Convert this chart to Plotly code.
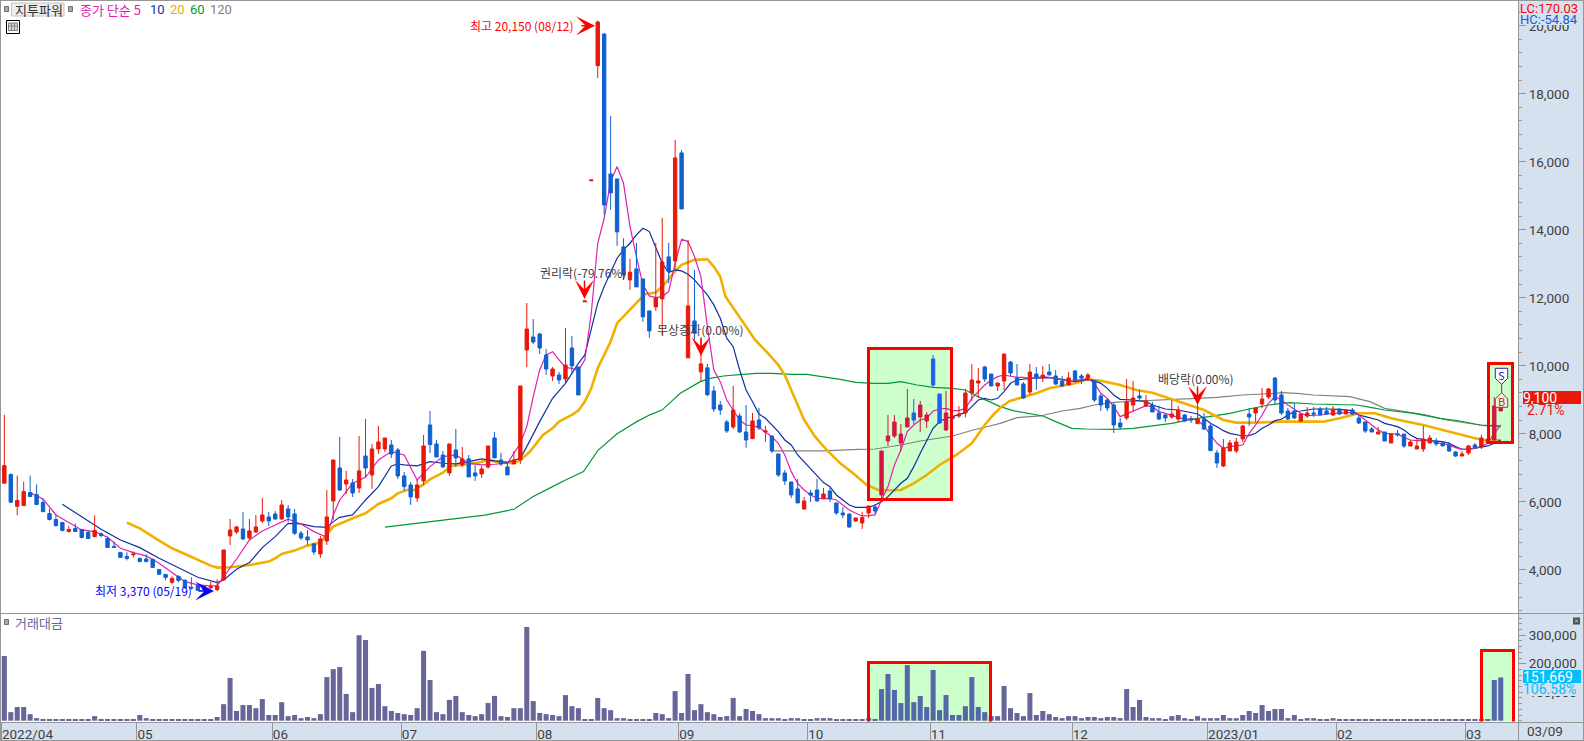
import plotly.graph_objects as go

W, H = 1584, 741
# ---------- data ----------
opens = [6546,6800,5870,5890,6270,6213,5980,5655,5480,5390,5128,5216,5186,5098,4980,5059,4922,4687,4512,4394,
4443,4335,4316,4306,4012,3866,3631,3807,3690,3484,3543,3396,3470,3420,3702,4996,5113,5201,4937,5113,
5437,5554,5642,5495,5789,5642,5074,4966,4760,4466,4848,6025,6995,6524,6554,6407,7348,6789,7553,7553,
7671,7524,6761,6496,6114,6614,8260,7701,7378,6849,7525,7084,7260,6849,6819,7025,7878,7231,7025,7114,
7231,10465,10847,10935,10318,9700,9730,9612,10524,9965,11880,15440,18827,19758,15642,15495,13496,12526,12849,12555,
11614,11732,11967,13202,13085,16260,10233,11320,9821,9939,9259,8847,8347,8200,8524,8053,7857,8406,8053,7935,
7406,6848,6583,6377,5789,6260,6348,6103,6319,5966,5672,5642,5436,5378,5672,5848,6201,7789,7935,7730,
8200,8612,8494,8377,10200,9170,8112,8500,8523,8612,9200,9494,9964,9758,9406,9553,10111,9641,9464,9229,
9758,9641,9817,9700,9553,9435,9847,9700,9641,9553,9112,8994,8847,8318,8465,8847,9112,8818,8847,8612,
8553,8494,8435,8553,8435,8298,8435,8230,7436,7054,7495,7495,7847,8582,8612,8876,9082,9641,9141,8671,
8671,8377,8524,8612,8729,8671,8553,8729,8582,8700,8465,8347,8141,7994,8053,7730,8000,7994,7640,7553,
7553,7730,7788,7730,7671,7465,7347,7436,7671,7612,7730,7818,8670]
highs = [8560,6840,6770,6590,6770,6510,6095,5800,5626,5390,5294,5362,5186,5157,5597,5098,4980,4834,4512,4512,
4540,4365,4453,4335,4012,3866,3807,3836,3720,3778,3543,3504,3641,3720,4584,5495,5290,5701,5495,5613,
6113,5701,5731,6054,5907,5789,5143,5172,4790,4995,6348,7230,7906,6907,6671,7936,8435,7700,8230,7877,
7818,7583,6878,6584,6643,7966,8672,7819,7496,7701,8142,7613,7378,7084,7054,7642,8054,7437,7172,7495,
9407,11847,11376,10965,10494,9965,9818,11112,10877,9965,11908,15466,20150,19778,17348,15495,13751,13143,13614,12555,
11614,13614,14349,13614,16642,16348,13702,12820,10840,10056,9406,8965,8406,9406,8612,8847,8612,8759,8230,7935,
7406,6936,6583,6671,6142,6348,6671,6407,6407,5966,5848,5642,5525,5701,5878,5936,7495,8553,8553,8288,
9317,9023,8965,8641,10317,9170,9259,8560,8818,9317,10052,9935,10000,9758,9494,10346,10141,10052,9523,10052,
9964,9994,10052,9876,9700,9817,9876,9758,9788,9553,9170,9053,8906,8465,9611,9552,9290,9141,8935,8817,
8582,8994,8817,8582,8523,9405,8612,8288,7524,7847,7818,7876,8259,8759,8759,9347,9347,9670,9258,8759,
8906,8582,8788,8788,8788,8788,8817,8729,8700,8758,8553,8347,8200,8200,8053,7994,8110,7994,7820,7876,
8230,7965,7877,7788,7759,7494,7494,7671,7730,7965,7990,9082,9130]
lows = [6546,5960,5600,5890,6155,5920,5710,5450,5270,5128,5098,5128,4920,4920,4951,4951,4658,4658,4365,4277,
4365,4218,4218,4071,3866,3690,3572,3631,3445,3416,3396,3367,3440,3370,3702,4731,5054,4878,4878,5084,
5378,5290,5466,5466,5407,5025,4878,4731,4437,4349,4731,5466,6319,6230,6142,6260,6720,6377,7406,7465,
7289,6672,6330,5908,5996,6496,7437,7319,6996,6761,7025,7025,6731,6614,6702,6966,7290,7054,6790,7114,
7114,9965,10641,10347,9730,9554,9465,9495,9759,9142,11880,15440,18465,14437,14584,13526,12526,12232,12320,11291,
10821,11614,10909,12428,12820,14613,10233,10762,9527,9116,8641,8553,8024,8141,8024,7593,7857,8112,7769,7436,
6730,6495,6113,5966,5760,5995,5995,6103,5995,5613,5525,5231,5407,5201,5525,5642,6054,7642,7877,7495,
8200,8288,8053,8171,9376,8288,8083,8400,8465,8484,8965,9053,9523,9406,9259,9288,9700,9435,9023,9141,
9288,9523,9729,9435,9376,9435,9553,9464,9553,8935,8670,8670,8024,8141,8406,8670,9000,8788,8641,8406,
8347,8435,8347,8347,8318,8288,8112,7505,6995,7024,7495,7436,7759,8230,8347,8759,9023,8876,8553,8406,
8435,8347,8465,8494,8553,8553,8523,8553,8582,8553,8288,8024,8053,7994,7788,7730,7920,7582,7640,7553,
7465,7730,7642,7642,7465,7318,7347,7377,7553,7553,7730,7818,8670]
closes = [7064,5990,6040,6300,6155,5920,5710,5480,5300,5157,5186,5128,4951,4920,5157,5010,4658,4658,4365,4335,
4463,4247,4247,4071,3866,3778,3749,3690,3474,3465,3396,3504,3500,3524,4584,5172,5260,4907,5143,5260,
5613,5437,5495,5907,5554,5074,4937,4878,4525,4907,5554,7230,6348,6642,6260,6907,6995,7553,7759,7877,
7406,6760,6447,6143,6496,7642,7682,7319,7025,7701,7290,7260,6731,6761,6966,7642,7290,7114,6790,7231,
9407,11082,10700,10524,9906,9906,9583,10024,9995,9142,11908,15466,20111,14731,15084,13937,12673,12751,12320,11438,
11026,11997,13055,12771,16113,14613,11762,10958,10056,9145,8729,8700,8083,8700,8053,7818,8377,8171,8083,7495,
6789,6613,6201,5966,6025,6201,6025,6230,6083,5672,5613,5260,5525,5534,5878,5731,7495,7935,8347,7994,
8465,8406,8847,8553,9435,8318,8612,8450,8582,9200,9582,9553,9611,9406,9494,10346,9788,9435,9053,9817,
9670,9729,9729,9464,9406,9641,9582,9641,9729,8994,8847,8759,8259,8200,8935,9053,9053,8965,8641,8435,
8465,8582,8700,8377,8406,8435,8141,7505,7141,7583,7730,7759,8230,8494,8759,9023,9317,8994,8612,8435,
8465,8582,8612,8582,8553,8582,8700,8582,8700,8582,8318,8083,8053,8053,7788,7994,7970,7640,7759,7640,
7847,7877,7700,7642,7494,7347,7406,7642,7582,7877,7847,8818,9100]
trade_value = [227000,30000,48000,48000,23000,9000,6000,6000,6000,6000,6000,6000,6000,6000,16000,6000,6000,2500,2500,2500,
2500,20000,9000,6000,2500,2500,2500,2500,2500,6000,2500,2500,6000,13000,58000,150000,34000,55000,55000,44000,
76000,20000,20000,65000,16000,20000,9000,13000,9000,23000,153000,181000,188000,94000,30000,300000,283000,115000,129000,51000,
34000,27000,23000,20000,44000,245000,143000,30000,23000,73000,87000,30000,20000,16000,23000,62000,87000,16000,13000,44000,
44000,329000,69000,27000,23000,20000,16000,90000,51000,44000,2500,2500,80000,44000,37000,9000,9000,6000,6000,6000,
6000,27000,23000,9000,104000,27000,164000,37000,58000,30000,23000,13000,16000,80000,16000,41000,34000,23000,9000,9000,
9000,6000,9000,9000,6000,6000,9000,9000,9000,6000,6000,6000,6000,6000,9000,6000,111000,164000,108000,62000,
195000,65000,87000,48000,178000,37000,90000,20000,20000,51000,153000,48000,30000,16000,16000,122000,44000,27000,16000,97000,
20000,34000,23000,13000,9000,16000,16000,9000,13000,13000,9000,13000,13000,9000,111000,48000,73000,13000,9000,9000,
6000,16000,20000,9000,6000,16000,9000,9000,9000,20000,9000,9000,20000,34000,27000,55000,34000,41000,41000,9000,
20000,6000,9000,9000,6000,6000,9000,6000,6000,6000,6000,6000,6000,6000,6000,6000,2500,6000,2500,6000,
6000,6000,2500,2500,2500,2500,2500,6000,2500,2500,6000,143000,151669]
ma5_idx = [4,6,8,10,12,14,16,18,20,22,24,26,28,30,32,33,34,36,38,40,42,44,46,48,50,51,52,54,56,58,60,62,64,66,68,70,72,74,76,78,80,81,82,83,84,85,86,87,88,89,
90,91,92,93,94,95,96,97,98,99,100,101,102,103,104,105,106,107,108,109,110,111,112,113,114,115,116,117,118,119,120,121,122,123,124,125,126,127,128,129,
130,131,132,133,134,135,136,137,138,139,140,141,142,143,144,145,146,147,148,149,150,151,152,153,154,155,156,157,158,159,160,161,162,163,164,165,166,167,168,169,
170,171,172,173,174,175,176,177,178,179,180,181,182,183,184,185,186,187,188,189,190,191,192,193,194,195,196,197,198,199,200,201,202,203,204,205,206,207,208,209,
210,211,212,213,214,215,216,217,218,219,220,221,222,223,224,225,226,227,228,229,230,231,232]
ma5_val = [6270,6083,5613,5397,5172,5123,4956,4633,4506,4408,4192,3918,3653,3555,3525,3535,3800,4310,4878,5143,5319,5486,5348,5123,4956,5613,6054,6544,6720,7230,7476,7378,6643,7035,7329,7378,7133,7084,7104,7133,7721,8211,9093,9877,10318,10416,10171,9955,9926,9857,
10174,11546,13604,14339,15417,15858,15368,14094,13212,12379,12056,12007,12036,12183,13016,13722,13653,13212,12624,11154,9876,9533,8994,8700,8406,8259,8239,8190,8063,7916,7720,7377,6887,6544,6348,6201,6103,6083,6103,6054,
5907,5760,5662,5584,5593,5613,6054,6446,7083,7524,8063,8259,8406,8455,8671,8729,8749,8680,8680,8749,9043,9239,9435,9582,9680,9729,9700,9660,9660,9631,9650,9680,9660,9631,9582,9553,9562,9602,9631,9484,
9190,9043,8798,8504,8582,8680,8749,8827,8798,8651,8602,8553,8484,8426,8445,8406,8230,7965,7720,7573,7622,7642,7671,8014,8259,8553,8896,9092,8994,8847,8720,8602,8533,8533,8553,8582,8602,8602,8622,8622,
8553,8406,8259,8112,8014,8014,7994,7896,7818,7798,7798,7798,7740,7700,7671,7593,7544,7544,7573,7622,7720,8014,8259]
ma10_idx = [9,12,15,18,21,24,27,30,33,34,36,38,40,42,44,46,48,50,51,52,54,56,58,60,61,62,64,66,68,70,72,74,76,78,80,81,83,85,87,89,90,91,92,93,94,95,96,97,98,99,
100,101,102,103,104,105,106,107,108,109,110,111,112,113,114,115,116,117,118,119,120,121,122,123,124,125,126,127,128,129,130,131,132,133,134,135,136,137,138,139,
140,141,142,143,144,145,146,147,148,149,150,151,152,153,154,155,156,157,159,162,164,166,168,169,170,171,172,173,175,177,178,180,182,184,185,186,187,188,189,190,
192,193,194,195,196,197,198,199,200,201,203,205,207,209,210,211,212,213,214,215,216,217,218,219,221,223,224,225,226,227,228,229,230,231,232]
ma10_val = [5927,5564,5192,4878,4653,4339,4065,3780,3624,3702,4016,4212,4653,4976,5368,5348,5270,5250,5417,5544,5613,6054,6446,7054,7112,7084,7055,7182,7133,7113,7182,7260,7202,7162,7280,7623,8358,9044,9485,10073,10318,11053,11840,12330,12771,13163,13408,13604,13849,14045,
13947,13506,13016,12742,12820,12790,12693,12526,12310,12085,11791,11399,10811,10562,9876,9288,8945,8582,8455,8259,8063,7818,7671,7377,7181,6985,6789,6564,6446,6201,6054,5907,5838,5829,5838,5907,6005,6152,6348,6544,
6691,7034,7426,7818,8161,8357,8455,8504,8553,8622,8798,8994,9043,8994,9043,9239,9484,9582,9631,9651,9602,9533,9602,9562,9484,9337,9141,9014,8994,8945,8847,8729,8700,8631,8582,8455,8308,8210,8092,8014,
7936,7945,8014,8161,8259,8386,8426,8553,8651,8671,8729,8729,8720,8680,8553,8504,8455,8406,8308,8259,8210,8112,7965,7867,7798,7769,7720,7622,7544,7544,7573,7602,7642,7720,7818]
ma20_idx = [19,21,24,26,28,30,32,33,35,38,41,42,43,45,47,49,50,51,54,56,58,60,61,62.4,63.6,64.9,66,68,69.3,71.4,73.5,75,77,79,80,81.5,82.5,83.5,85,86,88,89,90,91,92,94,95,97,98.3,99.3,
101,102.7,103.7,105,107,109,110,111,111.8,112.5,116.4,118.4,120,121,122,123,124,125.7,127.5,129.6,131.6,133.7,135.5,137,139,141,143,145,147.6,150,152,153.3,154.6,155.9,158,160,162,164,166,168,170,173,175.5,178,181,184,186,189,
191,194,197,198,201,204.5,207,210,212.5,215,217.5,220,223,225,228,230,232]
ma20_val = [5388,5221,4858,4633,4466,4290,4123,4065,4074,4143,4241,4339,4466,4564,4711,4800,5025,5270,5515,5662,5936,6103,6250,6349,6349,6496,6663,6859,7054,7113,7152,7231,7152,7133,7231,7476,7721,7966,8162,8358,8554,8680,8946,9340,9929,10713,11252,11644,11889,12105,
12154,12477,12722,12967,13114,13134,12918,12624,12036,11840,10758,10366,10023,9729,9288,8896,8406,7916,7524,7132,6838,6495,6348,6338,6348,6544,6789,7083,7377,7720,8259,8553,8798,8965,9072,9190,9337,9406,9484,9602,9562,9435,9288,9210,9014,8827,8700,8406,
8328,8328,8357,8357,8357,8357,8455,8602,8602,8455,8357,8259,8112,8014,7867,7798,7818]
ma60_idx = [59,66.7,74.5,79,82,85,87,89.8,91,92,95,98,100,102,104.8,107.9,109.4,111.5,114,116.6,119,122,124.4,127,129.6,132,134.7,137,139,141.5,144,147,149,151,152.8,154.4,156.4,159,161,163,165.5,167.8,172,175,178,181,184,187,190,193,
196,198,199.3,203,209.7,211.8,214,218.5,222.6,225.7,228.8,232]
ma60_val = [5258,5427,5606,5781,6153,6447,6643,6888,7231,7505,8000,8350,8550,8704,9194,9533,9631,9700,9739,9778,9778,9749,9749,9680,9602,9513,9484,9484,9533,9435,9366,9337,9288,9092,8945,8798,8680,8582,8524,8357,8161,8141,8132,8161,8230,8308,8426,8504,8602,8729,
8847,8896,8916,8876,8847,8778,8700,8602,8455,8377,8259,8230]
ma120_idx = [119,127,132.4,135,139,142,147,150.2,152.8,154.4,157,160.6,164,166.8,169,172,175.6,180,184.9,188,192,197,198,200.4,203,208.6,211.7,214,217.4,220.5,223.6,226.7,229.8,232]
ma120_val = [7495,7495,7544,7553,7671,7789,7935,8112,8230,8308,8475,8524,8671,8749,8847,8925,8965,8994,9043,9072,9141,9190,9210,9190,9141,9092,8945,8749,8651,8553,8406,8308,8230,8210]
month_idx = [0,21,42,62,83,105,125,144,166,187,207,227]
month_lbl = ["2022/04","05","06","07","08","09","10","11","12","2023/01","02","03"]
price_ticks = [4000,6000,8000,10000,12000,14000,16000,18000,20000]
value_ticks = [100000,200000,300000]
last_price, last_pct = "9,100", "2.71%"
last_value, value_pct = "151,669", "106.58%"
# -------------------------------------------------
idx = list(range(len(closes)))
KR = "Noto Sans CJK KR, Noto Sans, sans-serif"
NUM = "Liberation Sans Narrow, Roboto, sans-serif"
PANEL, EDGE = "#D6E1F0", "#969696"
UP, DOWN = "#E8190A", "#1060D0"
UP_BOX, DOWN_BOX = "#D01840", "#2060F0"
px = lambda v: v / W
py = lambda v: 1 - v / H

def price_at(y):  return 4000 + (569.8 - y) * 29.41
def value_at(y):  return (720.7 - y) * 3509
def idx_at(x):    return (x - 4.33) / 6.45

main_box = set(range(136, 147)) | {231, 232}
vol_box = set(range(134, 154)) | {231, 232}

fig = go.Figure()
for xs, ys, col, w in [(ma120_idx, ma120_val, "#808080", 1.2), (ma60_idx, ma60_val, "#009933", 1.2),
                       (ma20_idx, ma20_val, "#F0B000", 2.6), (ma10_idx, ma10_val, "#1030A0", 1.2),
                       (ma5_idx, ma5_val, "#E020B0", 1.2)]:
    fig.add_trace(go.Scatter(x=xs, y=ys, mode="lines", line=dict(color=col, width=w), hoverinfo="skip",
                             xaxis="x", yaxis="y"))

def candles(members, up, down):
    m = [i for i in idx if members(i)]
    fig.add_trace(go.Candlestick(
        x=m, open=[opens[i] for i in m], high=[highs[i] for i in m],
        low=[lows[i] for i in m], close=[closes[i] for i in m],
        increasing=dict(line=dict(color=up, width=1), fillcolor=up),
        decreasing=dict(line=dict(color=down, width=1), fillcolor=down),
        whiskerwidth=0, xaxis="x", yaxis="y3", hoverinfo="skip"))
candles(lambda i: i not in main_box, UP, DOWN)
candles(lambda i: i in main_box, UP_BOX, DOWN_BOX)

fig.add_trace(go.Bar(x=idx, y=trade_value, width=0.78, xaxis="x2", yaxis="y2", hoverinfo="skip",
                     marker=dict(color=["#5566AA" if i in vol_box else "#666699" for i in idx], line=dict(width=0))))

tickfont = dict(family=NUM, size=13.5, color="#404040")
xr = [idx_at(1), idx_at(1518)]
py_range = [price_at(613), price_at(1)]
xdom = [px(1), px(1518)]
fig.update_layout(
    width=W, height=H, margin=dict(l=0, r=0, t=0, b=0), showlegend=False,
    paper_bgcolor=PANEL, plot_bgcolor="white", boxgap=0.25, bargap=0.2,
    xaxis=dict(domain=xdom, range=xr, anchor="y", showticklabels=False, ticks="", showgrid=False, zeroline=False,
               rangeslider=dict(visible=False)),
    xaxis2=dict(domain=xdom, range=xr, anchor="y2", matches="x", tickmode="array",
                tickvals=[i - 0.45 for i in month_idx], ticktext=month_lbl, ticks="outside", ticklen=18,
                tickwidth=1, tickcolor=EDGE, ticklabelposition="outside right", tickfont=tickfont,
                showgrid=False, zeroline=False, rangeslider=dict(visible=False)),
    yaxis=dict(domain=[py(613), py(1)], range=py_range, side="right", anchor="x", tickmode="array",
               tickvals=price_ticks, tickformat=",", ticks="outside", ticklen=7, tickwidth=1, tickcolor=EDGE,
               tickfont=tickfont, showgrid=False, zeroline=False,
               minor=dict(tick0=0, dtick=400, ticks="outside", ticklen=3, tickcolor=EDGE, tickwidth=1)),
    yaxis3=dict(domain=[py(613), py(1)], range=py_range, overlaying="y", side="right", anchor="x", visible=False,
                showgrid=False, zeroline=False),
    yaxis2=dict(domain=[py(722), py(613)], range=[value_at(722), value_at(613)], side="right", anchor="x2",
                tickmode="array", tickvals=value_ticks, tickformat=",", ticks="outside", ticklen=7, tickwidth=1,
                tickcolor=EDGE, tickfont=tickfont, showgrid=False, zeroline=False,
                minor=dict(tick0=0, dtick=20000, ticks="outside", ticklen=3, tickcolor=EDGE, tickwidth=1)),
)

shapes = []
def rect(x0, y0, x1, y1, fill=None, line=None, lw=1, layer="above"):
    s = dict(type="rect", xref="paper", yref="paper", x0=px(x0), x1=px(x1), y0=py(y0), y1=py(y1), layer=layer,
             line=dict(width=lw if line else 0, color=line or "rgba(0,0,0,0)"))
    if fill:
        s["fillcolor"] = fill
    shapes.append(s)
def seg(x0, y0, x1, y1, col=EDGE, lw=1):
    shapes.append(dict(type="line", xref="paper", yref="paper", x0=px(x0), x1=px(x1), y0=py(y0), y1=py(y1),
                       line=dict(color=col, width=lw), layer="above"))
def poly(points, line, fill, lw=1):
    d = "M " + " L ".join(f"{px(a):.5f} {py(b):.5f}" for a, b in points) + " Z"
    shapes.append(dict(type="path", xref="paper", yref="paper", path=d, fillcolor=fill,
                       line=dict(color=line, width=lw), layer="above"))

# highlight boxes: price panel (closed), value panel (open at the bottom)
price_boxes = [(868.5, 348.5, 951.5, 499.5), (1488.5, 363.5, 1512.5, 442.5)]
value_boxes = [(868.5, 662.5, 990.5, 721.5), (1481.5, 650.5, 1513.5, 721.5)]
for x0, y0, x1, y1 in price_boxes + value_boxes:
    rect(x0, y0, x1, y1, fill="#CCFFCC", layer="below")
for x0, y0, x1, y1 in price_boxes:
    rect(x0, y0, x1, y1, line="#FF0000", lw=3)
for x0, y0, x1, y1 in value_boxes:
    seg(x0, y0 - 1.5, x0, y1, "#FF0000", 3)
    seg(x1, y0 - 1.5, x1, y1, "#FF0000", 3)
    seg(x0, y0, x1, y0, "#FF0000", 3)

# frame
seg(0, 0.5, W, 0.5); seg(0.5, 0, 0.5, 740); seg(0, 613.5, W, 613.5); seg(1518.5, 0, 1518.5, 740)
seg(0, 722.5, W, 722.5); seg(0, 740.5, W, 740.5); seg(1583.5, 0, 1583.5, 741)

# legend widgets
rect(11.5, 3, 64, 16, fill="#EEEEEE", line="#C4C4C4")
rect(4.5, 6.5, 8.5, 11.5, fill="#A8A8A8", line="#707070")
rect(68.5, 6.5, 72.5, 11.5, fill="#A8A8A8", line="#707070")
rect(4.5, 619.5, 8.5, 624.5, fill="#A8A8A8", line="#707070")
rect(6.5, 20.5, 19.5, 33.5, fill="white", line="#000000")
rect(8.5, 23, 17.5, 30.5, fill="#D8D8D8", line="#808080")
seg(11.5, 23, 11.5, 30.5, "#808080"); seg(14.5, 23, 14.5, 30.5, "#808080"); seg(8.5, 26, 17.5, 26, "#808080")
rect(1573, 617.5, 1580, 624.5, fill="#505050")
seg(1575, 619.5, 1578, 622.5, "#D0D0D0"); seg(1575, 622.5, 1578, 619.5, "#D0D0D0")

# S / B signal pentagons
seg(1501.7, 384, 1501.7, 393, "#A02060")
poly([(1495.3, 368.3), (1507.7, 368.3), (1507.7, 378.3), (1501.7, 384.3), (1495.3, 378.3)], "#3020B0", "#FFFFFF")
poly([(1501.7, 392.7), (1507.7, 399), (1507.7, 407.3), (1495.3, 407.3), (1495.3, 399)], "#C0204A", "#EAF6D8")
fig.update_layout(shapes=shapes)

anns = []
def text(s, x, y, color="#404040", size=12, family=KR, anchor="left", bg=None, w=None, h=None):
    a = dict(text=s, xref="paper", yref="paper", x=px(x), y=py(y), xanchor=anchor, yanchor="middle", showarrow=False,
             font=dict(family=family, size=size, color=color), align="left", borderpad=0, borderwidth=0)
    if bg: a["bgcolor"] = bg
    if w: a["width"] = w
    if h: a["height"] = h
    anns.append(a)
def arrow(x, y, dx, dy, color="#FF0000", lw=1.5):
    anns.append(dict(text="", xref="paper", yref="paper", x=px(x), y=py(y), ax=dx, ay=dy, axref="pixel", ayref="pixel",
                     showarrow=True, arrowhead=3, arrowsize=2.1, arrowwidth=lw, arrowcolor=color))

text("지투파워", 15, 9.5, "#303030", 13)
text("종가 단순 5", 80, 9.5, "#E020B0", 13)
text("10", 150, 9.5, "#1030B0", 13, NUM)
text("20", 170, 9.5, "#F0A800", 13, NUM)
text("60", 190, 9.5, "#009933", 13, NUM)
text("120", 210, 9.5, "#808080", 13, NUM)
text("거래대금", 15, 622, "#666699", 13)
text("최고 20,150 (08/12)", 574, 25.7, "#FF0000", 12, anchor="right")
arrow(595, 25.7, -15, 0)
text("최저 3,370 (05/19)", 95, 590.7, "#0000FF", 12)
arrow(214, 591, -17, 0, "#0000FF")
text("권리락(-79.76%)", 540, 272, "#404040", 12)
arrow(584.5, 299, 0, -20)
text("무상증자(0.00%)", 657, 329, "#404040", 12)
arrow(701, 356, 0, -19)
text("배당락(0.00%)", 1158, 378, "#404040", 12)
arrow(1197.5, 405, 0, -19)
text("S", 1501.5, 375, "#3020B0", 11, KR, "center")
text("B", 1501.5, 401, "#C0204A", 11, KR, "center")
text("LC:170.03", 1520, 7.5, "#FF0000", 13, NUM, bg=PANEL, w=58, h=12)
text("HC:-54.84", 1520, 19, "#1060D0", 13, NUM, bg=PANEL, w=58, h=11)
text(last_price, 1523, 397.3, "#FFFFFF", 14, NUM, bg=UP, w=58, h=13)
text(last_pct, 1527, 409.5, UP, 14, NUM)
text(value_pct, 1523, 688.5, "#00BFFF", 14, NUM, bg=PANEL, w=58, h=14)
text(last_value, 1523, 676.5, "#FFFFFF", 14, NUM, bg="#00BFFF", w=58, h=13)
text("03/09", 1527, 730.5, "#404040", 13.5, NUM)
fig.update_layout(annotations=anns)

fig.write_html("out.html", config=dict(displayModeBar=False),
               post_script="document.body.style.margin='0';document.body.style.overflow='hidden';")
